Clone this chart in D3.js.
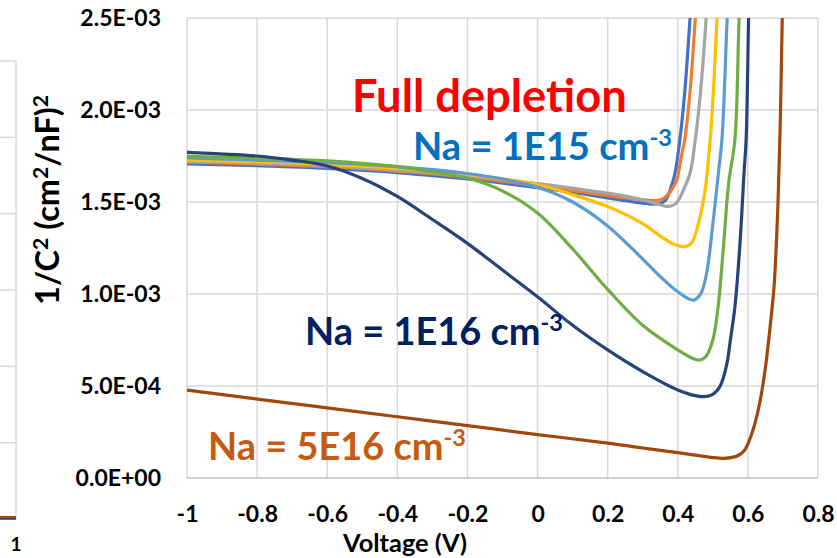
<!DOCTYPE html>
<html>
<head>
<meta charset="utf-8">
<script src="https://cdn.jsdelivr.net/npm/d3@7"></script>
<style>
  html, body { margin: 0; padding: 0; background: #fff; }
  svg { display: block; font-family: Lato, "Open Sans", sans-serif; font-weight: 700; }
</style>
</head>
<body>
<svg id="chart" width="837" height="558"></svg>
<script>
// ---- Axis ticks --------------------------------------------------------
const xTickValues = [-1, -0.8, -0.6, -0.4, -0.2, 0, 0.2, 0.4, 0.6, 0.8];
const xTickLabels = ["-1", "-0.8", "-0.6", "-0.4", "-0.2", "0", "0.2", "0.4", "0.6", "0.8"];
const yTickValues = [0, 5e-4, 1e-3, 1.5e-3, 2e-3, 2.5e-3];
const yTickLabels = ["0.0E+00", "5.0E-04", "1.0E-03", "1.5E-03", "2.0E-03", "2.5E-03"];

// ---- 1/C^2 versus voltage, one [V, 1/C^2] list per doping level ---------
// lightest doping (Na = 1E15 cm-3)
const series1 = [[-1,1.707e-3],[-0.8,1.697e-3],[-0.6,1.683e-3],[-0.4,1.660e-3],[-0.2,1.625e-3],[0,1.578e-3],[0.1,1.552e-3],[0.2,1.522e-3],[0.3,1.494e-3],[0.33,1.488e-3],[0.35,1.492e-3],[0.365,1.51e-3],[0.378,1.565e-3],[0.392,1.656e-3],[0.406,1.84e-3],[0.42,2.1e-3],[0.435,2.5e-3],[0.445,2.8e-3]];
const series2 = [[-1,1.717e-3],[-0.8,1.706e-3],[-0.6,1.692e-3],[-0.4,1.668e-3],[-0.2,1.635e-3],[0,1.588e-3],[0.1,1.562e-3],[0.2,1.535e-3],[0.3,1.512e-3],[0.34,1.508e-3],[0.36,1.52e-3],[0.38,1.56e-3],[0.397,1.62e-3],[0.41,1.746e-3],[0.42,1.84e-3],[0.435,2.1e-3],[0.45,2.5e-3],[0.46,2.8e-3]];
const series3 = [[-1,1.722e-3],[-0.8,1.712e-3],[-0.6,1.698e-3],[-0.4,1.675e-3],[-0.2,1.643e-3],[0,1.600e-3],[0.1,1.575e-3],[0.2,1.548e-3],[0.3,1.512e-3],[0.35,1.485e-3],[0.37,1.476e-3],[0.39,1.485e-3],[0.405,1.52e-3],[0.416,1.565e-3],[0.435,1.656e-3],[0.45,1.84e-3],[0.465,2.1e-3],[0.481,2.5e-3],[0.49,2.8e-3]];
const series4 = [[-1,1.728e-3],[-0.8,1.718e-3],[-0.6,1.705e-3],[-0.4,1.684e-3],[-0.2,1.650e-3],[0,1.595e-3],[0.1,1.540e-3],[0.2,1.475e-3],[0.3,1.382e-3],[0.35,1.315e-3],[0.39,1.27e-3],[0.42,1.257e-3],[0.44,1.28e-3],[0.459,1.384e-3],[0.478,1.565e-3],[0.488,1.746e-3],[0.495,1.9e-3],[0.503,2.15e-3],[0.512,2.5e-3],[0.52,2.8e-3]];
const series5 = [[-1,1.739e-3],[-0.8,1.728e-3],[-0.6,1.714e-3],[-0.4,1.692e-3],[-0.2,1.655e-3],[-0.1,1.625e-3],[0,1.580e-3],[0.1,1.500e-3],[0.2,1.370e-3],[0.3,1.190e-3],[0.35,1.095e-3],[0.4,1.012e-3],[0.444,0.967e-3],[0.465,1.0e-3],[0.482,1.11e-3],[0.5,1.38e-3],[0.516,1.66e-3],[0.526,1.84e-3],[0.541,2.5e-3],[0.55,2.85e-3]];
const series6 = [[-1,1.748e-3],[-0.8,1.738e-3],[-0.6,1.723e-3],[-0.4,1.692e-3],[-0.3,1.665e-3],[-0.2,1.630e-3],[-0.1,1.560e-3],[0,1.44e-3],[0.1,1.245e-3],[0.2,1.025e-3],[0.3,0.830e-3],[0.4,0.696e-3],[0.44,0.652e-3],[0.46,0.641e-3],[0.48,0.66e-3],[0.5,0.75e-3],[0.515,0.93e-3],[0.53,1.25e-3],[0.545,1.6e-3],[0.563,1.84e-3],[0.575,2.5e-3],[0.585,2.9e-3]];
// Na = 1E16 cm-3
const series7 = [[-1,1.770e-3],[-0.8,1.750e-3],[-0.7,1.728e-3],[-0.6,1.696e-3],[-0.5,1.628e-3],[-0.4,1.530e-3],[-0.3,1.405e-3],[-0.2,1.275e-3],[-0.1,1.13e-3],[0,0.985e-3],[0.1,0.83e-3],[0.2,0.696e-3],[0.3,0.578e-3],[0.4,0.478e-3],[0.44,0.452e-3],[0.475,0.442e-3],[0.5,0.455e-3],[0.521,0.50e-3],[0.54,0.62e-3],[0.55,0.75e-3],[0.563,0.93e-3],[0.578,1.29e-3],[0.589,1.66e-3],[0.595,1.84e-3],[0.602,2.5e-3],[0.607,2.9e-3]];
// Na = 5E16 cm-3
const series8 = [[-1,0.478e-3],[-0.8,0.429e-3],[-0.6,0.381e-3],[-0.4,0.333e-3],[-0.2,0.285e-3],[0,0.236e-3],[0.2,0.190e-3],[0.3,0.163e-3],[0.4,0.138e-3],[0.45,0.124e-3],[0.5,0.111e-3],[0.53,0.107e-3],[0.555,0.112e-3],[0.575,0.125e-3],[0.59,0.15e-3],[0.6,0.185e-3],[0.61,0.235e-3],[0.62,0.295e-3],[0.635,0.42e-3],[0.65,0.6e-3],[0.665,0.85e-3],[0.675,1.05e-3],[0.685,1.45e-3],[0.692,1.9e-3],[0.698,2.5e-3],[0.702,2.8e-3]];

const seriesList = [series1, series2, series3, series4, series5, series6, series7, series8];
const seriesColors = ["#4472C4", "#ED7D31", "#A5A5A5", "#FFC000", "#5B9BD5", "#70AD47", "#264478", "#9E480E"];

// ---- In-plot annotations ----------------------------------------------
const notes = [
  { text: "Full depletion", sup: null, color: "#FF0000", x: 352, y: 112, width: 275 },
  { text: "Na = 1E15 cm", sup: "-3", color: "#0070C0", x: 413, y: 160, width: 259 },
  { text: "Na = 1E16 cm", sup: "-3", color: "#002060", x: 305, y: 345, width: 258 },
  { text: "Na = 5E16 cm", sup: "-3", color: "#C55A11", x: 208, y: 460, width: 258 }
];

// ---- Layout --------------------------------------------------------------
const svg = d3.select("#chart");
const plot = { left: 187, right: 818, top: 18, bottom: 478 };
const gridColor = "#D9D9D9";

const x = d3.scaleLinear().domain([-1, 0.8]).range([plot.left, plot.right]);
const y = d3.scaleLinear().domain([0, 2.5e-3]).range([plot.bottom, plot.top]);

// Edge of the neighbouring panel on the left (only its right border shows)
const nbX = d3.scaleLinear().domain([0.9, 1]).range([-60, 16]);
const nbY = d3.scaleLinear().domain([0, 3e-3]).range([519, 61]);
const nb = svg.append("g");
nb.selectAll("line.h").data(d3.range(0, 3.0001e-3, 5e-4)).join("line")
  .attr("x1", 0).attr("x2", nbX(1)).attr("y1", d => nbY(d)).attr("y2", d => nbY(d))
  .attr("stroke", d => d === 0 ? "#BFBFBF" : gridColor).attr("stroke-width", 1.5);
nb.append("line").attr("x1", nbX(1)).attr("x2", nbX(1)).attr("y1", nbY(3e-3)).attr("y2", nbY(0))
  .attr("stroke", gridColor).attr("stroke-width", 1.5);
const nbCurves = [
  { color: "#70AD47", pts: [[0.9, 0.03e-4], [1, 0.03e-4]] },
  { color: "#264478", pts: [[0.9, 0.06e-4], [1, 0.06e-4]] },
  { color: "#9E480E", pts: [[0.9, 0.16e-4], [1, 0.14e-4]] }
];
nb.selectAll("path").data(nbCurves).join("path")
  .attr("d", d => d3.line().x(p => nbX(p[0])).y(p => nbY(p[1]))(d.pts))
  .attr("fill", "none").attr("stroke", d => d.color).attr("stroke-width", 3);
nb.append("text").attr("x", nbX(1)).attr("y", 551).attr("text-anchor", "middle")
  .attr("font-size", 19).attr("fill", "#000").text("1");

// Gridlines
const grid = svg.append("g");
grid.selectAll("line.v").data(xTickValues).join("line")
  .attr("x1", d => x(d)).attr("x2", d => x(d))
  .attr("y1", plot.top).attr("y2", plot.bottom)
  .attr("stroke", gridColor).attr("stroke-width", 1.5);
grid.selectAll("line.h").data(yTickValues).join("line")
  .attr("x1", plot.left).attr("x2", plot.right)
  .attr("y1", d => y(d)).attr("y2", d => y(d))
  .attr("stroke", d => d === 0 ? "#BFBFBF" : gridColor).attr("stroke-width", 1.5);

// Axes (labels only; lines come from the grid)
const yAxis = d3.axisLeft(y).tickValues(yTickValues)
  .tickFormat((d, i) => yTickLabels[i]).tickSize(0).tickPadding(26);
const yg = svg.append("g").attr("transform", `translate(${plot.left},0)`).call(yAxis);
const xAxis = d3.axisBottom(x).tickValues(xTickValues)
  .tickFormat((d, i) => xTickLabels[i]).tickSize(0).tickPadding(28);
const xg = svg.append("g").attr("transform", `translate(0,${plot.bottom})`).call(xAxis);
[yg, xg].forEach(g => {
  g.select(".domain").remove();
  g.selectAll("text").attr("font-size", 23).attr("font-family", "Lato, sans-serif")
    .attr("font-weight", 700).attr("fill", "#000");
});

// Curves
svg.append("defs").append("clipPath").attr("id", "plotClip")
  .append("rect").attr("x", plot.left).attr("y", plot.top)
  .attr("width", plot.right - plot.left).attr("height", plot.bottom - plot.top);
const line = d3.line().x(d => x(d[0])).y(d => y(d[1])).curve(d3.curveCatmullRom.alpha(0.5));
svg.append("g").attr("clip-path", "url(#plotClip)")
  .selectAll("path").data(seriesList).join("path")
  .attr("d", line)
  .attr("fill", "none")
  .attr("stroke", (d, i) => seriesColors[i])
  .attr("stroke-width", 3.2)
  .attr("stroke-linejoin", "round")
  .attr("stroke-linecap", "round");

// Text sized to a target width
function fitWidth(sel, width) {
  const w = sel.node().getComputedTextLength();
  const fs = parseFloat(sel.attr("font-size"));
  sel.attr("font-size", fs * width / w);
}

// Axis titles
const yTitle = svg.append("text")
  .attr("transform", "translate(46,200) rotate(-90)")
  .attr("text-anchor", "middle").attr("dominant-baseline", "central")
  .attr("font-size", 24).attr("fill", "#000");
yTitle.append("tspan").text("1/C");
yTitle.append("tspan").attr("baseline-shift", "30%").attr("font-size", "65%").text("2");
yTitle.append("tspan").text(" (cm");
yTitle.append("tspan").attr("baseline-shift", "30%").attr("font-size", "65%").text("2");
yTitle.append("tspan").text("/nF)");
yTitle.append("tspan").attr("baseline-shift", "30%").attr("font-size", "65%").text("2");
fitWidth(yTitle, 210);

const xTitle = svg.append("text")
  .attr("x", 405).attr("y", 552).attr("text-anchor", "middle")
  .attr("font-size", 24).attr("fill", "#000").text("Voltage (V)");
fitWidth(xTitle, 124);

// Annotations
notes.forEach(n => {
  const t = svg.append("text").attr("x", n.x).attr("y", n.y)
    .attr("font-size", 40).attr("fill", n.color);
  t.append("tspan").text(n.text);
  if (n.sup) t.append("tspan").attr("baseline-shift", "super").attr("font-size", "62%").text(n.sup);
  fitWidth(t, n.width);
});
</script>
</body>
</html>
